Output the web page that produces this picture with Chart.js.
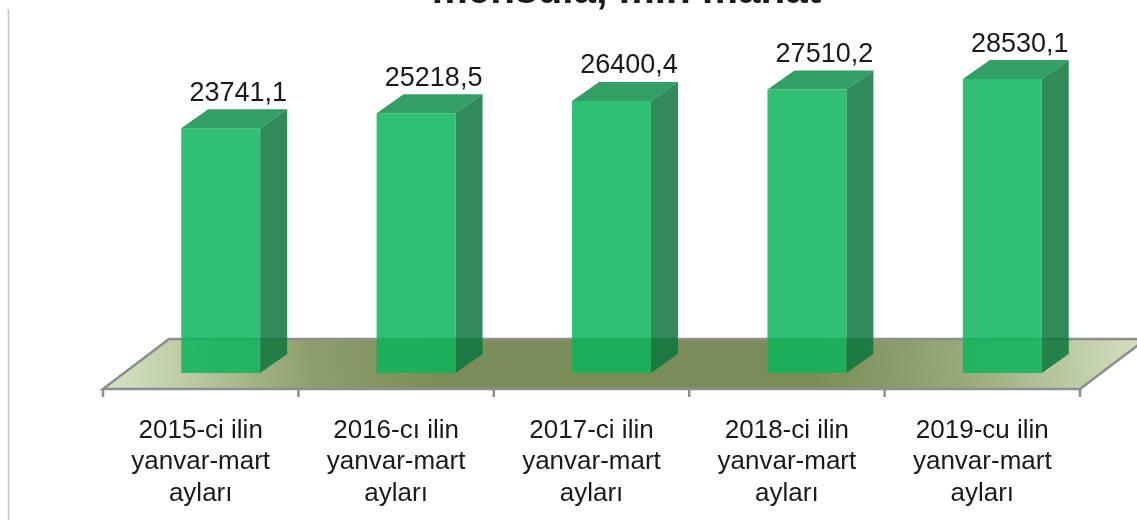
<!DOCTYPE html>
<html>
<head>
<meta charset="utf-8">
<script src="https://cdn.jsdelivr.net/npm/chart.js@4"></script>
<style>
  html, body { margin: 0; padding: 0; background: #fff; }
  canvas { display: block; }
</style>
</head>
<body>
<canvas id="mehsul_chart" width="1137" height="520"></canvas>
<script>
const titleText = 'məhsula, min manat';
const categories = [
  ['2015-ci ilin', 'yanvar-mart', 'ayları'],
  ['2016-cı ilin', 'yanvar-mart', 'ayları'],
  ['2017-ci ilin', 'yanvar-mart', 'ayları'],
  ['2018-ci ilin', 'yanvar-mart', 'ayları'],
  ['2019-cu ilin', 'yanvar-mart', 'ayları']
];
const values = [23741.1, 25218.5, 26400.4, 27510.2, 28530.1];

const FONT = '"Liberation Sans", Arial, sans-serif';
const depthX = 27;
const depthY = 19;
const floorShift = 20;   // the floor's front edge sits left of the bar scale

const fake3d = {
  id: 'fake3d',
  beforeDatasetsDraw(chart) {
    const c = chart.ctx;
    const x = chart.scales.x;
    const base = chart.scales.y.bottom;
    const frontY = base + 16;
    const backY = base - 34;
    const l = x.left - floorShift;
    const r = x.right - floorShift;

    // left wall edge
    c.save();
    c.strokeStyle = '#c4c4c4';
    c.lineWidth = 1.5;
    c.beginPath();
    c.moveTo(8.5, 9);
    c.lineTo(8.5, 520);
    c.stroke();

    // floor
    const g = c.createLinearGradient(l, frontY + 20, r + 66, backY - 20);
    g.addColorStop(0, '#d8e4c4');
    g.addColorStop(0.05, '#c8d6b0');
    g.addColorStop(0.2, '#8f9f6c');
    g.addColorStop(0.32, '#7b8d58');
    g.addColorStop(0.68, '#7b8d58');
    g.addColorStop(0.82, '#98a878');
    g.addColorStop(0.97, '#ccd9b6');
    g.addColorStop(1, '#d4e0c0');
    c.fillStyle = g;
    c.beginPath();
    c.moveTo(l, frontY);
    c.lineTo(r, frontY);
    c.lineTo(r + 66, backY);
    c.lineTo(l + 66, backY);
    c.closePath();
    c.fill();
    c.strokeStyle = '#8e8e8e';
    c.lineWidth = 2.5;
    c.stroke();

    // axis ticks under the front edge
    for (let i = 0; i <= categories.length; i++) {
      const tx = l + (r - l) * i / categories.length;
      c.beginPath();
      c.moveTo(tx, frontY);
      c.lineTo(tx, frontY + 8);
      c.stroke();
    }

    // bar side and top faces
    chart.getDatasetMeta(0).data.forEach(bar => {
      const x0 = bar.x - bar.width / 2;
      const x1 = bar.x + bar.width / 2;
      c.fillStyle = 'rgba(12,118,61,0.85)';
      c.beginPath();
      c.moveTo(x1, bar.y);
      c.lineTo(x1 + depthX, bar.y - depthY);
      c.lineTo(x1 + depthX, bar.base - depthY);
      c.lineTo(x1, bar.base);
      c.closePath();
      c.fill();
      c.fillStyle = 'rgba(14,143,73,0.85)';
      c.beginPath();
      c.moveTo(x0, bar.y);
      c.lineTo(x0 + depthX, bar.y - depthY);
      c.lineTo(x1 + depthX, bar.y - depthY);
      c.lineTo(x1, bar.y);
      c.closePath();
      c.fill();
    });
    c.restore();
  },
  afterDatasetsDraw(chart) {
    const c = chart.ctx;
    c.save();
    c.fillStyle = '#1a1a1a';
    c.textAlign = 'center';
    c.textBaseline = 'alphabetic';
    c.font = '27px ' + FONT;
    chart.getDatasetMeta(0).data.forEach((bar, i) => {
      c.fillText(values[i].toFixed(1).replace('.', ','), bar.x + 17.5, bar.y - 27.5);
    });
    // title is cut by the top of the picture
    c.font = 'bold 40.5px ' + FONT;
    c.fillText(titleText, 626.5, 3);
    c.restore();
  }
};

new Chart(document.getElementById('mehsul_chart'), {
  type: 'bar',
  data: {
    labels: categories,
    datasets: [{
      data: values,
      backgroundColor: 'rgba(12,181,90,0.85)',
      borderWidth: 0,
      barPercentage: 0.404,
      categoryPercentage: 1
    }]
  },
  options: {
    responsive: false,
    animation: false,
    layout: { padding: { left: 123, right: 37, top: 0, bottom: 0 } },
    plugins: {
      legend: { display: false },
      title: { display: false },
      tooltip: { enabled: false }
    },
    scales: {
      x: {
        grid: { display: false },
        border: { display: false },
        afterFit(scale) { scale.height = 147; },
        ticks: {
          color: '#1a1a1a',
          font: { family: FONT, size: 26, lineHeight: 1.21 },
          padding: 34,
          labelOffset: -floorShift,
          maxRotation: 0,
          autoSkip: false
        }
      },
      y: {
        display: false,
        min: 0,
        max: 36200
      }
    }
  },
  plugins: [fake3d]
});
</script>
</body>
</html>
